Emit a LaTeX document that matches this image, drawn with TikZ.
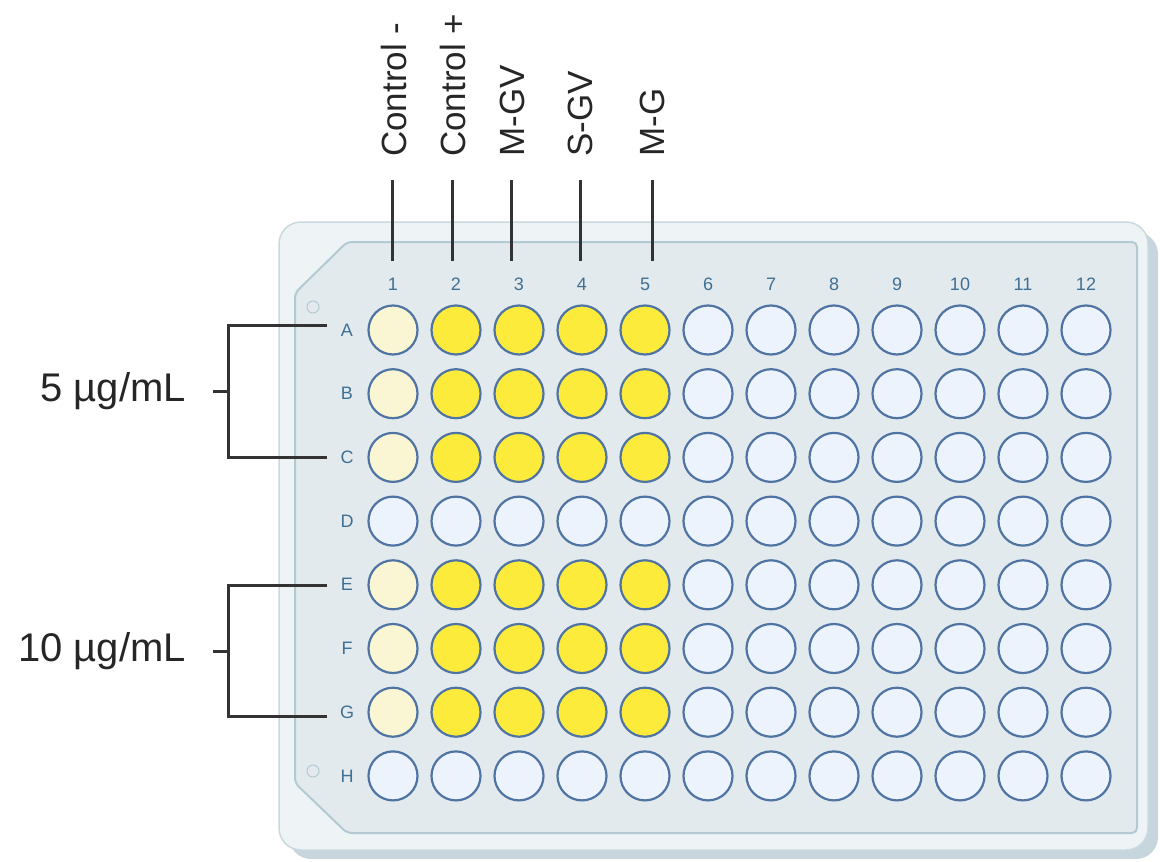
\documentclass[tikz,border=0pt]{standalone}
\usepackage{fontspec}
\setmainfont{Liberation Sans}
\begin{document}
\begin{tikzpicture}[x=1pt,y=-1pt,
  welle/.style={circle,draw=wellrim,line width=2.2pt,fill=wellempty,minimum size=49pt,inner sep=0pt},
  wellp/.style={welle,fill=wellpale},
  welly/.style={welle,fill=wellyellow},
  lbl/.style={font=\fontsize{18}{19}\selectfont,text=labelblue,inner sep=0pt},
  big/.style={font=\fontsize{35}{38}\selectfont,text=black!85,inner sep=0pt},
  conc/.style={font=\fontsize{40}{42}\selectfont,text=black!85,inner sep=0pt},
  brk/.style={line width=3pt,draw=black!80}]
\definecolor{wellrim}{HTML}{4F74A3}
\definecolor{wellempty}{HTML}{EDF3FC}
\definecolor{wellpale}{HTML}{FAF6D3}
\definecolor{wellyellow}{HTML}{FDEB3B}
\definecolor{labelblue}{HTML}{3F6F93}
\definecolor{plateout}{HTML}{EEF3F5}
\definecolor{plateedge}{HTML}{C9D9DF}
\definecolor{plateshadow}{HTML}{C7D6DC}
\definecolor{platein}{HTML}{E3EAED}
\definecolor{plateinedge}{HTML}{B4CAD2}
\useasboundingbox (0,0) rectangle (1160,862);
% plate
\fill[plateshadow,rounded corners=22pt] (289,232) rectangle (1158,859);
\draw[fill=plateout,draw=plateedge,line width=1.5pt,rounded corners=22pt] (279,222) rectangle (1148,850);
\draw[fill=platein,draw=plateinedge,line width=2pt,rounded corners=5pt]
  (295,293) -- (347,242) -- (1137,242) -- (1137,833) -- (347,833) -- (295,783) -- cycle;
\node[circle,draw=plateinedge,line width=1pt,minimum size=12pt,inner sep=0pt] (m1) at (313,307) {};
\node[circle,draw=plateinedge,line width=1pt,minimum size=12pt,inner sep=0pt] (m2) at (313,771) {};
% column numbers
\foreach \c in {1,...,12} {
  \node[lbl] (col\c) at ({393+63*(\c-1)},284) {\c};
}
% row labels and wells
\foreach \r [count=\i from 0] in {A,B,C,D,E,F,G,H} {
  \node[lbl] (row\r) at (347,{330+63.7*\i}) {\r};
  \foreach \c in {1,...,12} {
    \pgfmathtruncatemacro{\isD}{(\i==3)||(\i==7)}
    \ifnum\isD=1
      \node[welle] (w\r\c) at ({393+63*(\c-1)},{330+63.7*\i}) {};
    \else
      \ifnum\c=1
        \node[wellp] (w\r\c) at ({393+63*(\c-1)},{330+63.7*\i}) {};
      \else\ifnum\c<6
        \node[welly] (w\r\c) at ({393+63*(\c-1)},{330+63.7*\i}) {};
      \else
        \node[welle] (w\r\c) at ({393+63*(\c-1)},{330+63.7*\i}) {};
      \fi\fi
    \fi
  }
}
% column header labels
\node[big,rotate=90,anchor=south west] (t1) at (407,157) {Control -};
\node[big,rotate=90,anchor=south west] (t2) at (466,157) {Control +};
\node[big,rotate=90,anchor=south west] (t3) at (525,157) {M-GV};
\node[big,rotate=90,anchor=south west] (t4) at (593,157) {S-GV};
\node[big,rotate=90,anchor=south west] (t5) at (665,157) {M-G};
\coordinate (c1a) at (392,180); \coordinate (c1b) at (392,261);
\coordinate (c2a) at (452,180); \coordinate (c2b) at (452,261);
\coordinate (c3a) at (511,180); \coordinate (c3b) at (511,261);
\coordinate (c4a) at (580,180); \coordinate (c4b) at (580,261);
\coordinate (c5a) at (652,180); \coordinate (c5b) at (652,261);
\foreach \k in {1,...,5} { \draw[brk] (c\k a) -- (c\k b); }
% brackets
\node[conc,anchor=east] (conc1) at (186,391) {5 µg/mL};
\node[conc,anchor=east] (conc2) at (186,651) {10 µg/mL};
\coordinate (b1t) at (327,325); \coordinate (b1b) at (327,457);
\coordinate (b2t) at (327,585); \coordinate (b2b) at (327,716);
\draw[brk] (b1t) -- (228,325) -- (228,457) -- (b1b);
\draw[brk] (213,391) -- (228,391);
\draw[brk] (b2t) -- (228,585) -- (228,716) -- (b2b);
\draw[brk] (213,651) -- (228,651);
\end{tikzpicture}
\end{document}
